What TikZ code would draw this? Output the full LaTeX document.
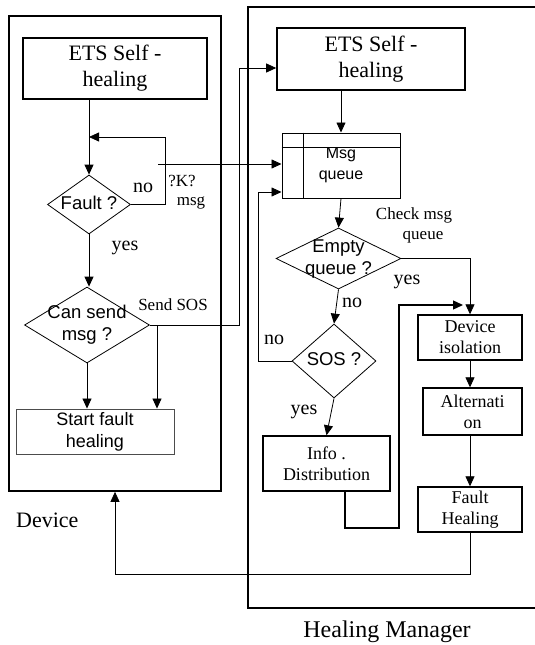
\documentclass[tikz,border=0pt]{standalone}
\usepackage{fontspec}
\setmainfont{Liberation Serif}
\setsansfont{Liberation Sans}
\usetikzlibrary{arrows.meta, shapes.geometric, calc}
\newcommand{\dlabel}[1]{\smash{\makebox[0pt]{\raisebox{-0.25em}{\begin{tabular}{@{}c@{}}#1\end{tabular}}}}}
\tikzset{
    my-frame/.style={draw, line width=1.7pt},
    my-ets/.style={draw, line width=1.6pt, inner sep=0pt, align=center, font=\fontsize{22}{26}\selectfont},
    my-box/.style={draw, line width=1.4pt, inner sep=0pt, align=center, font=\fontsize{18}{21}\selectfont},
    my-sans-box/.style={draw, line width=0.9pt, inner sep=0pt, align=center, font=\sffamily\fontsize{18}{22}\selectfont},
    my-decision/.style={diamond, draw, line width=0.8pt, inner sep=0pt, font=\sffamily\fontsize{18.5}{22}\selectfont},
    my-arrow/.style={-{Triangle[length=10pt,width=9pt]}, line width=0.8pt},
    my-label/.style={inner sep=0pt, font=\fontsize{20}{24}\selectfont},
    my-note/.style={inner sep=0pt, font=\fontsize{17}{20}\selectfont},
}

\begin{document}
\begin{tikzpicture}[x=1pt, y=-1pt]
        \useasboundingbox (0,0) rectangle (535,645);

        % FRAMES
        \node[my-frame, minimum width=212pt, minimum height=475pt] (device) at (115,253.5) {};
        \draw[my-frame] (535,7) -- (248,7) -- (248,608) -- (535,608);
        \node[font=\fontsize{22}{26}\selectfont, inner sep=0pt, anchor=west] (devlbl) at (16,520) {Device};
        \node[font=\fontsize{24}{28}\selectfont, inner sep=0pt] (hmlbl) at (387,632) {Healing Manager};

        % DEVICE SIDE
        \node[my-ets, minimum width=184pt, minimum height=61pt] (ets1) at (115,68.5) {ETS Self -\\healing};
        \node[my-decision, minimum width=83pt, minimum height=59pt] (fault) at (89,204.5) {\dlabel{Fault ?}};
        \node[my-decision, minimum width=125pt, minimum height=76pt] (cansend) at (87,325) {\dlabel{Can send\\msg ?}};
        \node[my-sans-box, draw=black!70, minimum width=158pt, minimum height=45pt] (start) at (95,431.5) {Start fault\\healing};

        % MANAGER SIDE
        \node[my-ets, minimum width=188pt, minimum height=62pt] (ets2) at (371,59) {ETS Self -\\healing};
        \node[my-sans-box, line width=1pt, font=\sffamily\fontsize{16}{21}\selectfont,
              minimum width=118pt, minimum height=65pt] (queue) at (341,165.5) {Msg\\queue};
        \draw[line width=0.8pt] ($(queue.north west)+(0,15)$) -- ($(queue.north east)+(0,15)$);
        \draw[line width=0.8pt] ($(queue.north west)+(22,0)$) -- ($(queue.south west)+(22,0)$);
        \node[my-decision, minimum width=125pt, minimum height=61pt] (empty) at (338.5,258.5) {\dlabel{Empty\\queue ?}};
        \node[my-decision, minimum width=84pt, minimum height=74pt] (sos) at (334,361) {\dlabel{SOS ?}};
        \node[my-box, minimum width=127pt, minimum height=55pt] (info) at (326.5,463.5) {Info .\\Distribution};
        \node[my-box, minimum width=104pt, minimum height=45pt] (iso) at (470,337.5) {Device\\isolation};
        \node[my-box, minimum width=99pt, minimum height=47pt] (alt) at (472.5,411.5) {Alternati\\on};
        \node[my-box, minimum width=104pt, minimum height=45pt] (fh) at (470,509.5) {Fault\\Healing};

        % LABELS
        \node[my-label] (fno)   at (143,188) {no};
        \node[my-note]  (klbl)  at (182,181) {?K?};
        \node[my-note]  (mlbl)  at (191,203) {msg};
        \node[my-label] (fyes)  at (125,248) {yes};
        \node[my-note]  (slbl)  at (173,305) {Send SOS};
        \node[my-note]  (clbl1) at (414,215) {Check msg};
        \node[my-note]  (clbl2) at (423,237) {queue};
        \node[my-label] (eyes)  at (407,282) {yes};
        \node[my-label] (eno)   at (352,303) {no};
        \node[my-label] (sno)   at (274,340) {no};
        \node[my-label] (syes)  at (304,412) {yes};

        % CONNECTOR POINTS
        \coordinate (loopR)   at (165,137);
        \coordinate (loopL)   at (89,137);
        \coordinate (kout)    at (158,164);
        \coordinate (sosup)   at (239,68);
        \coordinate (sosdn)   at (157,325);
        \coordinate (sosno)   at (258,192);
        \coordinate (infoout) at ($(info.south)+(18.5,0)$);
        \coordinate (infobot) at (399,528);
        \coordinate (isoin)   at (463,305);
        \coordinate (ret)     at (115,574);

        % DEVICE CONNECTIONS
        \draw[my-arrow] (ets1.south -| fault.north) -- (fault.north);
        \draw[my-arrow] (fault.east) -| (loopR) -- (loopL);
        \draw[my-arrow] (kout) -- (kout -| queue.west);
        \draw[my-arrow] (fault.south) -- (fault.south |- cansend.north);
        \draw[my-arrow] (cansend.east) -| (sosup) -- (sosup -| ets2.west);
        \draw[my-arrow] (sosdn) -- (sosdn |- start.north);
        \draw[my-arrow] (cansend.south) -- (cansend.south |- start.north);

        % MANAGER CONNECTIONS
        \draw[my-arrow] (ets2.south -| queue.north) -- (queue.north);
        \draw[my-arrow] (queue.south) -- (empty.north);
        \draw[my-arrow] (empty.east) -| (iso.north);
        \draw[my-arrow] (empty.south) -- (sos.north);
        \draw[my-arrow] (sos.west) -| (sosno) -- (sosno -| queue.west);
        \draw[my-arrow] (sos.south) -- (info.north);
        \draw[my-arrow, line width=1.3pt] (infoout) |- (infobot) |- (isoin);
        \draw[my-arrow] (iso.south) -- (iso.south |- alt.north);
        \draw[my-arrow] (iso.south |- alt.south) -- (iso.south |- fh.north);
        \draw[my-arrow] (fh.south) |- (ret) -- (device.south);

\end{tikzpicture}
\end{document}
